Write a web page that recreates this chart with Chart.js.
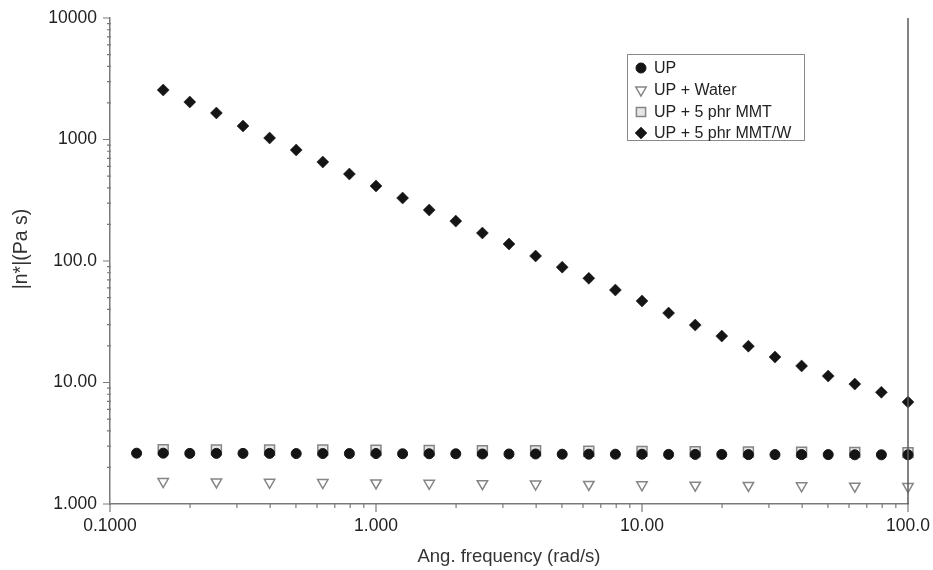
<!DOCTYPE html>
<html><head><meta charset="utf-8">
<script src="https://cdn.jsdelivr.net/npm/chart.js@4.4.1/dist/chart.umd.min.js"></script>
<style>html,body{margin:0;padding:0;background:#fff;}#wrap{width:933px;height:570px;}</style>
</head><body><div id="wrap"><canvas id="c" width="933" height="570"></canvas></div>
<script>
const freqUP = [0.1259,0.1585,0.1995,0.2512,0.3162,0.3981,0.5012,0.6310,0.7943,1.000,1.259,1.585,1.995,2.512,3.162,3.981,5.012,6.310,7.943,10.00,12.59,15.85,19.95,25.12,31.62,39.81,50.12,63.10,79.43,100.0];
const freqAlt = [0.1585,0.2512,0.3981,0.6310,1.000,1.585,2.512,3.981,6.310,10.00,15.85,25.12,39.81,63.10,100.0];
const freqMW = [0.1585,0.1995,0.2512,0.3162,0.3981,0.5012,0.6310,0.7943,1.000,1.259,1.585,1.995,2.512,3.162,3.981,5.012,6.310,7.943,10.00,12.59,15.85,19.95,25.12,31.62,39.81,50.12,63.10,79.43,100.0];
const upValues = [2.62,2.62,2.61,2.61,2.61,2.61,2.60,2.60,2.60,2.60,2.59,2.59,2.59,2.58,2.58,2.58,2.57,2.57,2.57,2.57,2.56,2.56,2.56,2.55,2.55,2.55,2.55,2.54,2.54,2.54];
const waterValues = [1.53,1.52,1.51,1.50,1.49,1.48,1.47,1.46,1.45,1.44,1.43,1.42,1.41,1.40,1.39];
const mmtValues = [2.80,2.79,2.78,2.78,2.77,2.76,2.75,2.74,2.72,2.71,2.70,2.68,2.67,2.66,2.65];
const mmtwValues = [2555,2036,1652,1291,1029,820,653,520,414,330,263,213,170,138,110,89,72,57.7,46.9,37.3,29.7,24.1,19.9,16.2,13.7,11.3,9.7,8.3,6.9];
const xTickValues = [0.1,1,10,100];
const xTickLabels = ['0.1000','1.000','10.00','100.0'];
const yTickValues = [1,10,100,1000,10000];
const yTickLabels = ['1.000','10.00','100.0','1000','10000'];
const seriesLabels = ['UP','UP + Water','UP + 5 phr MMT','UP + 5 phr MMT/W'];
const xTitle = 'Ang. frequency (rad/s)';
const yTitle = '|n*|(Pa s)';

const FONT = '"Liberation Sans", Arial, Helvetica, sans-serif';
const AXIS = '#7a7a7a';

function pts(xs, ys){ return xs.map((x,i)=>({x:x, y:ys[i]})); }

const datasets = [
  {label: seriesLabels[0], data: pts(freqUP, upValues), pointStyle:'circle', pointRadius:5, pointBorderWidth:1,
   backgroundColor:'#141414', borderColor:'#141414'},
  {label: seriesLabels[1], data: pts(freqAlt, waterValues), pointStyle:'triangle', pointRotation:180, pointRadius:6, pointBorderWidth:1.5,
   backgroundColor:'#ffffff', borderColor:'#858585'},
  {label: seriesLabels[2], data: pts(freqAlt, mmtValues), pointStyle:'rect', pointRadius:7, pointBorderWidth:1.5,
   backgroundColor:'#e6e6e6', borderColor:'#858585'},
  {label: seriesLabels[3], data: pts(freqMW, mmtwValues), pointStyle:'rectRot', pointRadius:6, pointBorderWidth:0.5,
   backgroundColor:'#151515', borderColor:'#151515'}
];
datasets.forEach(d=>{ d.showLine=false; d.clip=false; d.pointHoverRadius=d.pointRadius; });

const decorPlugin = {
  id:'decor',
  afterDatasetsDraw(chart){
    const ctx = chart.ctx, xs = chart.scales.x, ys = chart.scales.y, a = chart.chartArea;
    ctx.save();
    const xr = xs.getPixelForValue(100);
    ctx.strokeStyle = '#5a5a5a'; ctx.lineWidth = 1.5;
    ctx.beginPath(); ctx.moveTo(xr, a.top); ctx.lineTo(xr, a.bottom); ctx.stroke();
    ctx.strokeStyle = AXIS; ctx.lineWidth = 1.2;
    ctx.beginPath();
    xTickValues.forEach((d,i)=>{
      const p = xs.getPixelForValue(d);
      ctx.moveTo(p, a.bottom); ctx.lineTo(p, a.bottom+8);
      if (i < xTickValues.length-1) for (let k=2;k<=9;k++){ const q = xs.getPixelForValue(k*d); ctx.moveTo(q,a.bottom); ctx.lineTo(q,a.bottom+4); }
    });
    yTickValues.forEach((d,i)=>{
      const p = ys.getPixelForValue(d);
      ctx.moveTo(a.left-7, p); ctx.lineTo(a.left, p);
      if (i < yTickValues.length-1) for (let k=2;k<=9;k++){ const q = ys.getPixelForValue(k*d); ctx.moveTo(a.left-3,q); ctx.lineTo(a.left+1,q); }
    });
    ctx.stroke();
    ctx.fillStyle = '#333'; ctx.font = '19.5px ' + FONT; ctx.textAlign='center'; ctx.textBaseline='middle';
    ctx.save(); ctx.translate(22, 249); ctx.rotate(-Math.PI/2); ctx.fillText(yTitle, 0, 0); ctx.restore();
    ctx.font = '18.5px ' + FONT;
    ctx.fillText(xTitle, 509, 557);
    const lx = 627, ly = 54, lw = 177, lh = 86;
    ctx.fillStyle = '#fff'; ctx.fillRect(lx, ly, lw, lh);
    ctx.strokeStyle = '#8a8a8a'; ctx.lineWidth = 1; ctx.strokeRect(lx+0.5, ly+0.5, lw, lh);
    const rows = [68, 90, 112, 133];
    chart.data.datasets.forEach((ds,i)=>{
      ctx.fillStyle = ds.backgroundColor; ctx.strokeStyle = ds.borderColor; ctx.lineWidth = ds.pointBorderWidth;
      const r = ds.pointStyle==='rect' ? 6.5 : (ds.pointStyle==='circle' ? 5 : 6);
      Chart.helpers.drawPoint(ctx, {pointStyle: ds.pointStyle, rotation: ds.pointRotation||0, radius: r, borderWidth: ds.pointBorderWidth}, 641, rows[i]);
      ctx.fillStyle = '#222'; ctx.font = '16px ' + FONT; ctx.textAlign='left'; ctx.textBaseline='middle';
      ctx.fillText(ds.label, 654, rows[i]+1);
    });
    ctx.restore();
  }
};

new Chart(document.getElementById('c'), {
  type:'scatter',
  data:{datasets},
  options:{
    responsive:false, animation:false, devicePixelRatio:1,
    layout:{padding:{top:18, right:25, left:0, bottom:0}},
    plugins:{legend:{display:false}, tooltip:{enabled:false}},
    scales:{
      x:{type:'logarithmic', min:0.1, max:100,
         afterBuildTicks(s){ s.ticks = xTickValues.map(v=>({value:v})); },
         afterFit(s){ s.height = 66; s.paddingLeft = 0; s.paddingRight = 0; },
         grid:{display:false, drawTicks:false},
         border:{display:true, color:AXIS, width:1.5},
         ticks:{autoSkip:false, maxRotation:0, padding:12, color:'#222', font:{family:FONT, size:17.5},
                callback(v){ const i = xTickValues.indexOf(v); return i>=0 ? xTickLabels[i] : ''; }}
      },
      y:{type:'logarithmic', min:1, max:10000,
         afterBuildTicks(s){ s.ticks = yTickValues.map(v=>({value:v})); },
         afterFit(s){ s.width = 110; s.paddingTop = 0; s.paddingBottom = 0; },
         grid:{display:false, drawTicks:false},
         border:{display:true, color:AXIS, width:1.5},
         ticks:{autoSkip:false, padding:13, color:'#222', font:{family:FONT, size:17.5},
                callback(v){ const i = yTickValues.indexOf(v); return i>=0 ? yTickLabels[i] : ''; }}
      }
    }
  },
  plugins:[decorPlugin]
});
</script></body></html>
